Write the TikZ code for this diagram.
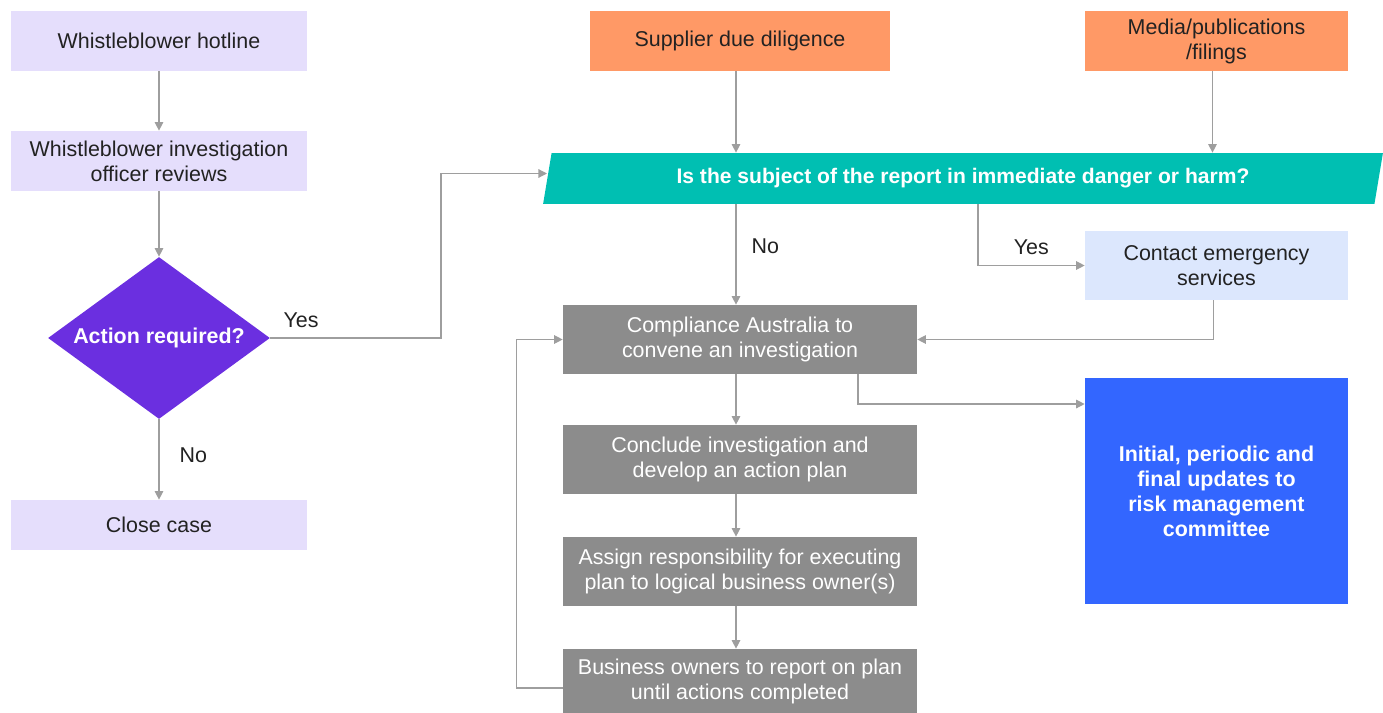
\documentclass[tikz,border=0pt]{standalone}
\usepackage{fontspec}
\setmainfont{Liberation Sans}
\usetikzlibrary{arrows.meta,shapes.geometric}

\definecolor{lilac}{HTML}{E5DEFC}
\definecolor{violet}{HTML}{6B2FE0}
\definecolor{peach}{HTML}{FF9966}
\definecolor{teal}{HTML}{00BFB2}
\definecolor{paleblue}{HTML}{DCE7FD}
\definecolor{slate}{HTML}{8C8C8C}
\definecolor{royal}{HTML}{3366FF}
\definecolor{wire}{HTML}{9E9E9E}
\definecolor{ink}{HTML}{222222}

\tikzset{
  >={Triangle[length=0.17cm,width=0.17cm]},
  every node/.style={font=\fontsize{12.2}{14.2}\selectfont, text=ink, align=center, inner sep=0pt},
  lilacbox/.style={fill=lilac, minimum width=5.94cm, minimum height=1.2cm},
  peachbox/.style={fill=peach, minimum height=1.2cm},
  greybox/.style={fill=slate, text=white, minimum width=7.08cm, minimum height=1.38cm},
  lbl/.style={fill=none},
  link/.style={->, draw=wire, line width=0.7pt}
}

\begin{document}
\begin{tikzpicture}[x=0.02cm, y=-0.02cm]
  \useasboundingbox (0,0) rectangle (1383,713);

  % left column
  \node[lilacbox] (hot) at (159,41) {Whistleblower hotline};
  \node[lilacbox] (off) at (159,161) {Whistleblower investigation\\officer reviews};
  \node[diamond, fill=violet, text=white, font=\fontsize{12.2}{14.2}\selectfont\bfseries,
        aspect=1.37, minimum width=4.44cm, minimum height=3.24cm] (act) at (159,338) {Action required?};
  \node[lilacbox, minimum height=1.0cm] (close) at (159,525) {Close case};

  % sources
  \node[peachbox, minimum width=6.0cm] (sup) at (740,41) {Supplier due diligence};
  \node[peachbox, minimum width=5.26cm] (med) at (1216.5,41) {Media/publications\\/filings};
  \node[trapezium, fill=teal, text=white, font=\fontsize{12}{14.2}\selectfont\bfseries,
        trapezium left angle=66.7, trapezium right angle=113.3, trapezium stretches body,
        minimum width=16.8cm, minimum height=1.02cm] (q) at (963,178.5)
        {Is the subject of the report in immediate danger or harm?};
  \node[fill=paleblue, minimum width=5.26cm, minimum height=1.38cm] (sos) at (1216.5,265.5) {Contact emergency\\services};

  % investigation
  \node[greybox] (comp) at (740,339.5) {Compliance Australia to\\convene an investigation};
  \node[greybox] (plan) at (740,459.5) {Conclude investigation and\\develop an action plan};
  \node[greybox] (own) at (740,571.5) {Assign responsibility for executing\\plan to logical business owner(s)};
  \node[greybox, minimum height=1.28cm] (rep) at (740,681) {Business owners to report on plan\\until actions completed};
  \node[fill=royal, text=white, font=\fontsize{12.2}{14.2}\selectfont\bfseries,
        minimum width=5.26cm, minimum height=4.52cm] (risk) at (1216.5,491)
        {Initial, periodic and\\final updates to\\risk management\\committee};

  \draw[link] (hot) -- (off);
  \draw[link] (off) -- (act);
  \draw[link] (act) -- node[lbl, right=0.4cm, pos=0.45] {No} (close);
  \draw[link] (act.east) -- node[lbl, above=0.2cm, pos=0.18] {Yes} (441,338) |- ([yshift=0.1cm]q.west);
  \draw[link] ([xshift=-0.08cm]sup.south) -- ([xshift=-0.08cm]sup.south |- q.north);
  \draw[link] ([xshift=-0.08cm]med.south) -- ([xshift=-0.08cm]med.south |- q.north);
  \draw[link] ([xshift=-0.08cm]q.south -| comp.north) -- node[lbl, right=0.3cm, pos=0.42] {No} ([xshift=-0.08cm]comp.north);
  \draw[link] ([xshift=0.3cm]q.south) |- node[lbl, above=0.2cm, pos=0.75] {Yes} (sos.west);
  \draw[link] ([xshift=-0.06cm]sos.south) |- (comp.east);
  \draw[link] ([xshift=2.36cm]comp.south) |- ([yshift=1.74cm]risk.west);
  \draw[link] ([xshift=-0.08cm]comp.south) -- ([xshift=-0.08cm]plan.north);
  \draw[link] ([xshift=-0.08cm]plan.south) -- ([xshift=-0.08cm]own.north);
  \draw[link] ([xshift=-0.08cm]own.south) -- ([xshift=-0.08cm]rep.north);
  \draw[link] ([yshift=-0.14cm]rep.west) -- ++(-0.92cm,0) |- (comp.west);
\end{tikzpicture}
\end{document}
